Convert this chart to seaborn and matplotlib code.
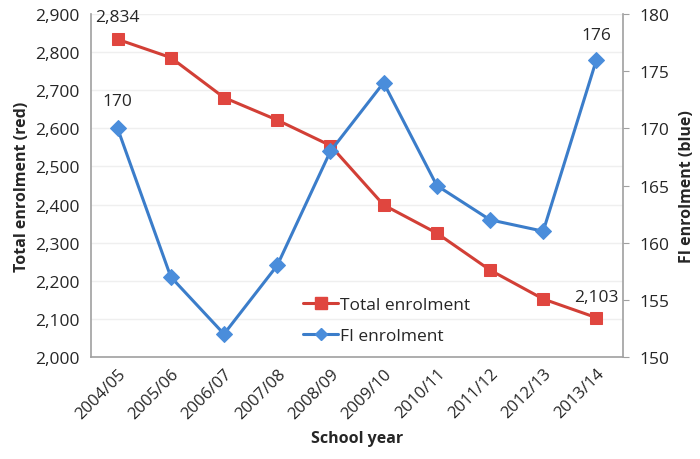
import matplotlib
matplotlib.use("Agg")
import matplotlib.pyplot as plt
import seaborn as sns
import pandas as pd
from matplotlib.ticker import FuncFormatter
from matplotlib.lines import Line2D

years = ["2004/05", "2005/06", "2006/07", "2007/08", "2008/09",
         "2009/10", "2010/11", "2011/12", "2012/13", "2013/14"]
total_enrolment = [2834, 2786, 2681, 2622, 2555, 2399, 2325, 2228, 2152, 2103]
fi_enrolment = [170, 157, 152, 158, 168, 174, 165, 162, 161, 176]

sns.set_style("white")
plt.rcParams['font.family'] = ['Open Sans', 'DejaVu Sans']

red_line = "#D23F36"
red_mark = "#E0463F"
blue_line = "#3B7DCA"
blue_mark = "#4A8DDB"
txt = "#262626"

df = pd.DataFrame({"year": years, "total": total_enrolment, "fi": fi_enrolment})
df["x"] = range(len(years))

fig = plt.figure(figsize=(7, 4.6), dpi=100)
ax = fig.add_axes([0.13, 0.222, 0.76, 0.745])
ax2 = ax.twinx()

sns.lineplot(data=df, x="x", y="total", ax=ax, color=red_line, lw=2.2,
             marker="s", markersize=9, markerfacecolor=red_mark,
             markeredgecolor=red_mark, zorder=3)
sns.lineplot(data=df, x="x", y="fi", ax=ax2, color=blue_line, lw=2.2,
             marker="D", markersize=8, markerfacecolor=blue_mark,
             markeredgecolor=blue_mark, zorder=3)

ax.set_xlim(-0.5, len(years) - 0.5)
ax.set_ylim(2000, 2900)
ax.set_yticks(range(2000, 2901, 100))
ax.yaxis.set_major_formatter(FuncFormatter(lambda v, p: f"{int(v):,}"))
ax2.set_ylim(150, 180)
ax2.set_yticks(range(150, 181, 5))

ax.set_xticks(df["x"])
ax.set_xticklabels(years, rotation=45, ha="right", rotation_mode="anchor")

ax.grid(axis="y", color="#EFEFEF", lw=1)
ax.set_axisbelow(True)

for a in (ax, ax2):
    a.spines["top"].set_visible(False)
ax2.spines["left"].set_visible(False)
ax.spines["right"].set_visible(False)
ax.spines["left"].set_color("#A0A0A0")
ax.spines["bottom"].set_color("#A0A0A0")
ax2.spines["right"].set_color("#A0A0A0")
ax2.spines["bottom"].set_visible(False)
for s in ("left", "bottom"):
    ax.spines[s].set_linewidth(1.2)
ax2.spines["right"].set_linewidth(1.2)

ax.tick_params(axis="y", length=0, labelsize=12.5, labelcolor=txt, pad=8)
ax.tick_params(axis="x", direction="in", length=4, color="#A0A0A0",
               labelsize=12, labelcolor=txt, pad=6)
ax2.tick_params(axis="y", direction="out", length=4, color="#A0A0A0",
                labelsize=12.5, labelcolor=txt, pad=8)

ax.set_xlabel("School year", fontsize=11.5, fontweight="bold", color=txt, labelpad=6)
ax.set_ylabel("Total enrolment (red)", fontsize=11.5, fontweight="bold", color=txt, labelpad=4)
ax2.set_ylabel("FI enrolment (blue)", fontsize=11.5, fontweight="bold", color=txt, labelpad=7)

ax.annotate(f"{total_enrolment[0]:,}", (0, total_enrolment[0]), xytext=(0, 10),
            textcoords="offset points", ha="center", va="bottom", fontsize=12.5, color=txt)
ax.annotate(f"{total_enrolment[-1]:,}", (len(years) - 1, total_enrolment[-1]), xytext=(0, 9),
            textcoords="offset points", ha="center", va="bottom", fontsize=12.5, color=txt)
ax2.annotate(f"{fi_enrolment[0]}", (0, fi_enrolment[0]), xytext=(0, 14),
             textcoords="offset points", ha="center", va="bottom", fontsize=12.5, color=txt)
ax2.annotate(f"{fi_enrolment[-1]}", (len(years) - 1, fi_enrolment[-1]), xytext=(0, 12),
             textcoords="offset points", ha="center", va="bottom", fontsize=12.5, color=txt)

handles = [
    Line2D([], [], color=red_line, lw=2.2, marker="s", markersize=8,
           markerfacecolor=red_mark, markeredgecolor=red_mark),
    Line2D([], [], color=blue_line, lw=2.2, marker="D", markersize=6,
           markerfacecolor=blue_mark, markeredgecolor=blue_mark),
]
leg = ax2.legend(handles, ["Total enrolment", "FI enrolment"], loc="upper left",
                 bbox_to_anchor=(0.37, 0.22), frameon=False, fontsize=12.5,
                 handlelength=2.0, handletextpad=0.1, labelspacing=0.85)
for t in leg.get_texts():
    t.set_color(txt)

fig.savefig("out.png", dpi=100)
